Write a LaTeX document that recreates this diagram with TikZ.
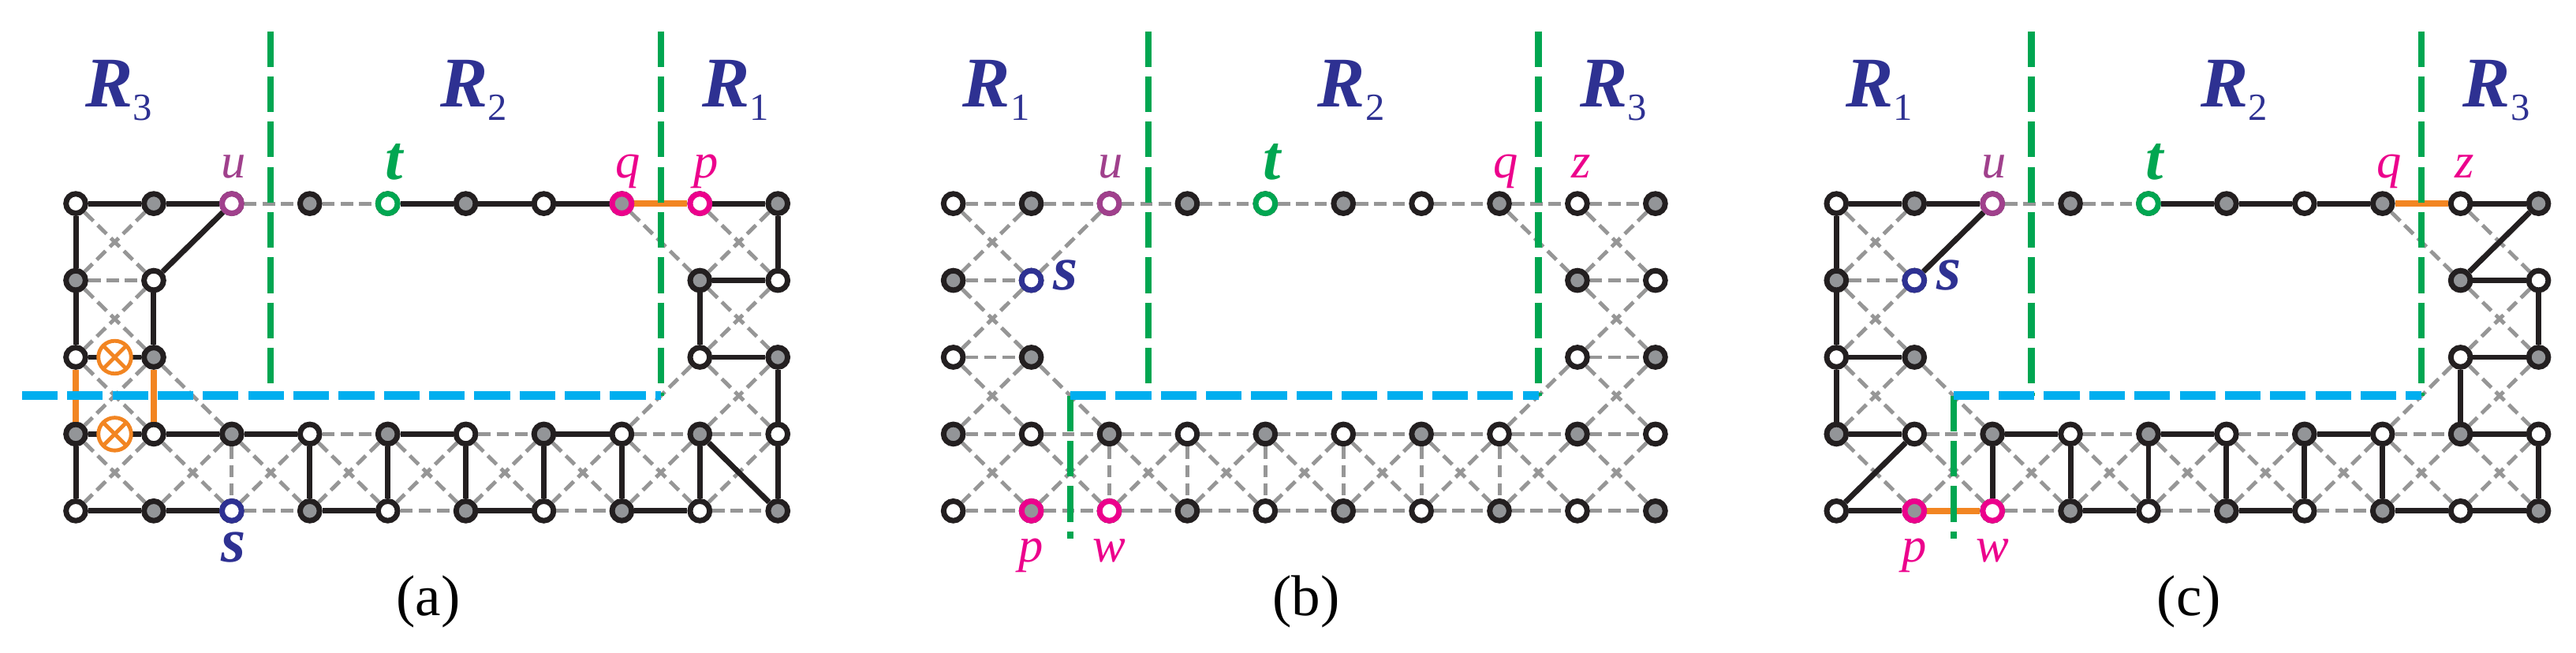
\documentclass[tikz,border=0pt]{standalone}
\usepackage{fontspec}
\setmainfont{Liberation Serif}
\usetikzlibrary{calc,positioning}

\definecolor{regblue}{RGB}{46,49,146}
\definecolor{grn}{RGB}{0,166,81}
\definecolor{mag}{RGB}{236,0,140}
\definecolor{purp}{RGB}{160,64,140}
\definecolor{orng}{RGB}{242,133,34}
\definecolor{cyn}{RGB}{0,174,239}
\definecolor{edgegray}{RGB}{150,150,150}
\definecolor{fillgray}{RGB}{147,149,152}
\definecolor{nodeblack}{RGB}{35,31,32}

\tikzset{
  vtx/.style={circle,draw=nodeblack,line width=2pt,minimum size=0.25cm,inner sep=0pt,fill=white},
  vgr/.style={vtx,fill=fillgray},
  gedge/.style={draw=edgegray,line width=1.4pt,dash pattern=on 4.5pt off 2.2pt},
  bedge/.style={draw=nodeblack,line width=2pt},
  oedge/.style={draw=orng,line width=2.4pt},
  gsep/.style={draw=grn,line width=2.4pt,dash pattern=on 13pt off 3.5pt},
  csep/.style={draw=cyn,line width=3pt,dash pattern=on 13pt off 3.5pt},
  lbl/.style={inner sep=0pt,anchor=base,font=\fontsize{18}{18}\selectfont\itshape},
  blbl/.style={lbl,font=\fontsize{23}{23}\selectfont\bfseries\itshape},
  captxt/.style={inner sep=0pt,font=\fontsize{21}{21}\selectfont},
  otimes/.style={circle,draw=orng,line width=1.4pt,fill=white,minimum size=0.42cm,inner sep=0pt,
    path picture={\draw[orng,line width=1.4pt]
      (path picture bounding box.north west)--(path picture bounding box.south east)
      (path picture bounding box.north east)--(path picture bounding box.south west);}},
}
\def\dy{0.985}
\newcommand{\regname}[1]{{\fontsize{26}{26}\selectfont\bfseries\itshape R}\raisebox{-5pt}{\fontsize{14}{14}\selectfont #1}}

% one grid: prefix, black edges, orange edges
\newcommand{\gridpanel}[3]{%
  % vertices
  \foreach \yi in {0,...,4}{
    \foreach \xi in {0,...,9}{
      \pgfmathtruncatemacro\gap{((\yi==1)||(\yi==2))&&(\xi>1)&&(\xi<8)}
      \pgfmathtruncatemacro\odd{mod(\xi+\yi,2)}
      \ifnum\gap=0
        \ifnum\odd=1 \def\vs{vgr}\else\def\vs{vtx}\fi
        \node[\vs] (#1-\xi-\yi) at (\xi,-\yi*\dy) {};
      \fi
    }
  }
  % gray edges
  \foreach \xi [evaluate=\xi as \xn using int(\xi+1)] in {0,...,8}
    \foreach \yi in {0,3,4}
      \draw[gedge] (#1-\xi-\yi) -- (#1-\xn-\yi);
  \foreach \yi in {1,2}{
    \draw[gedge] (#1-0-\yi) -- (#1-1-\yi);
    \draw[gedge] (#1-8-\yi) -- (#1-9-\yi);
  }
  \foreach \xi in {0,1,8,9}
    \foreach \yi [evaluate=\yi as \yn using int(\yi+1)] in {0,...,3}
      \draw[gedge] (#1-\xi-\yi) -- (#1-\xi-\yn);
  \foreach \xi in {2,...,7}
    \draw[gedge] (#1-\xi-3) -- (#1-\xi-4);
  \foreach \xi/\yi in {0/0,0/1,0/2,0/3,8/0,8/1,8/2,8/3,1/3,2/3,3/3,4/3,5/3,6/3,7/3}{
    \pgfmathtruncatemacro\xn{\xi+1}
    \pgfmathtruncatemacro\yn{\yi+1}
    \draw[gedge] (#1-\xi-\yi) -- (#1-\xn-\yn);
    \draw[gedge] (#1-\xn-\yi) -- (#1-\xi-\yn);
  }
  \foreach \xa/\ya/\xb/\yb in {2/0/1/1,7/0/8/1,1/2/2/3,8/2/7/3}
    \draw[gedge] (#1-\xa-\ya) -- (#1-\xb-\yb);
  % matching edges
  \foreach \xa/\ya/\xb/\yb in {#2}
    \draw[bedge] (#1-\xa-\ya) -- (#1-\xb-\yb);
  \foreach \xa/\ya/\xb/\yb in {#3}
    \draw[oedge] (#1-\xa-\ya) -- (#1-\xb-\yb);
}

\begin{document}
\begin{tikzpicture}
\useasboundingbox (0,0) rectangle (33.02,8.362);

%% (a)
\begin{scope}[shift={(0.971,5.752)}]
\gridpanel{a}{0/0/1/0,1/0/2/0,4/0/5/0,5/0/6/0,6/0/7/0,8/0/9/0,2/0/1/1,
  0/0/0/1,0/1/0/2,0/3/0/4,1/1/1/2,0/2/1/2,0/3/1/3,
  1/3/2/3,2/3/3/3,4/3/5/3,6/3/7/3,0/4/1/4,1/4/2/4,3/4/4/4,5/4/6/4,7/4/8/4,
  3/3/3/4,4/3/4/4,5/3/5/4,6/3/6/4,7/3/7/4,8/3/8/4,9/3/9/4,8/3/9/4,
  9/0/9/1,8/1/9/1,8/1/8/2,8/2/9/2,9/2/9/3}{7/0/8/0,0/2/0/3,1/2/1/3}
\node[vtx,draw=purp] (a-u) at (a-2-0) {};
\node[vtx,draw=grn] (a-t) at (a-4-0) {};
\node[vgr,draw=mag] (a-q) at (a-7-0) {};
\node[vtx,draw=mag] (a-p) at (a-8-0) {};
\node[vtx,draw=regblue] (a-s) at (a-2-4) {};
\node[otimes] (a-x1) at ($(a-0-2)!0.5!(a-1-2)$) {};
\node[otimes] (a-x2) at ($(a-0-3)!0.5!(a-1-3)$) {};
\draw[gsep] (2.5,2.21) -- (2.5,-2.5*\dy);
\draw[gsep] (7.5,2.21) -- (7.5,-2.5*\dy);
\draw[csep] (-0.69,-2.5*\dy) -- (7.5,-2.5*\dy);
\node[lbl,text=purp] (a-ul) at (2.02,0.33) {u};
\node[blbl,text=grn] (a-tl) at (4.08,0.31) {t};
\node[lbl,text=mag] (a-ql) at (7.08,0.33) {q};
\node[lbl,text=mag] (a-pl) at (8.08,0.33) {p};
\node[blbl,text=regblue] (a-sl) at (2.02,-4.59) {s};
\node[text=regblue,inner sep=0pt,anchor=base] (a-r3) at (0.55,1.24) {\regname{3}};
\node[text=regblue,inner sep=0pt,anchor=base] (a-r2) at (5.1,1.24) {\regname{2}};
\node[text=regblue,inner sep=0pt,anchor=base] (a-r1) at (8.46,1.24) {\regname{1}};
\node[captxt] (a-cap) at (4.52,-5.1) {(a)};
\end{scope}

%% (b)
\begin{scope}[shift={(12.22,5.752)}]
\gridpanel{b}{}{}
\node[vtx,draw=purp] (b-u) at (b-2-0) {};
\node[vtx,draw=grn] (b-t) at (b-4-0) {};
\node[vtx,draw=regblue] (b-s) at (b-1-1) {};
\node[vgr,draw=mag] (b-p) at (b-1-4) {};
\node[vtx,draw=mag] (b-w) at (b-2-4) {};
\draw[gsep] (2.5,2.21) -- (2.5,-2.5*\dy);
\draw[gsep] (7.5,2.21) -- (7.5,-2.5*\dy);
\draw[gsep] (1.5,-2.5*\dy) -- (1.5,-4.3);
\draw[csep] (1.5,-2.5*\dy) -- (7.5,-2.5*\dy);
\node[lbl,text=purp] (b-ul) at (2.02,0.33) {u};
\node[blbl,text=grn] (b-tl) at (4.08,0.31) {t};
\node[lbl,text=mag] (b-ql) at (7.08,0.33) {q};
\node[lbl,text=mag] (b-zl) at (8.05,0.33) {z};
\node[blbl,text=regblue] (b-sl) at (1.44,-1.11) {s};
\node[lbl,text=mag] (b-pl) at (1.0,-4.59) {p};
\node[lbl,text=mag] (b-wl) at (2.0,-4.59) {w};
\node[text=regblue,inner sep=0pt,anchor=base] (b-r1) at (0.55,1.24) {\regname{1}};
\node[text=regblue,inner sep=0pt,anchor=base] (b-r2) at (5.1,1.24) {\regname{2}};
\node[text=regblue,inner sep=0pt,anchor=base] (b-r3) at (8.46,1.24) {\regname{3}};
\node[captxt] (b-cap) at (4.52,-5.1) {(b)};
\end{scope}

%% (c)
\begin{scope}[shift={(23.54,5.752)}]
\gridpanel{c}{0/0/1/0,1/0/2/0,4/0/5/0,5/0/6/0,6/0/7/0,8/0/9/0,2/0/1/1,8/1/9/0,
  0/0/0/1,0/1/0/2,0/2/0/3,0/2/1/2,0/3/1/3,0/4/1/4,0/4/1/3,
  2/3/3/3,4/3/5/3,6/3/7/3,8/3/9/3,3/4/4/4,5/4/6/4,7/4/8/4,8/4/9/4,
  2/3/2/4,3/3/3/4,4/3/4/4,5/3/5/4,6/3/6/4,7/3/7/4,9/3/9/4,
  8/1/9/1,9/1/9/2,8/2/9/2,8/2/8/3}{7/0/8/0,1/4/2/4}
\node[vtx,draw=purp] (c-u) at (c-2-0) {};
\node[vtx,draw=grn] (c-t) at (c-4-0) {};
\node[vtx,draw=regblue] (c-s) at (c-1-1) {};
\node[vgr,draw=mag] (c-p) at (c-1-4) {};
\node[vtx,draw=mag] (c-w) at (c-2-4) {};
\draw[gsep] (2.5,2.21) -- (2.5,-2.5*\dy);
\draw[gsep] (7.5,2.21) -- (7.5,-2.5*\dy);
\draw[gsep] (1.5,-2.5*\dy) -- (1.5,-4.3);
\draw[csep] (1.5,-2.5*\dy) -- (7.5,-2.5*\dy);
\node[lbl,text=purp] (c-ul) at (2.02,0.33) {u};
\node[blbl,text=grn] (c-tl) at (4.08,0.31) {t};
\node[lbl,text=mag] (c-ql) at (7.08,0.33) {q};
\node[lbl,text=mag] (c-zl) at (8.05,0.33) {z};
\node[blbl,text=regblue] (c-sl) at (1.44,-1.11) {s};
\node[lbl,text=mag] (c-pl) at (1.0,-4.59) {p};
\node[lbl,text=mag] (c-wl) at (2.0,-4.59) {w};
\node[text=regblue,inner sep=0pt,anchor=base] (c-r1) at (0.55,1.24) {\regname{1}};
\node[text=regblue,inner sep=0pt,anchor=base] (c-r2) at (5.1,1.24) {\regname{2}};
\node[text=regblue,inner sep=0pt,anchor=base] (c-r3) at (8.46,1.24) {\regname{3}};
\node[captxt] (c-cap) at (4.52,-5.1) {(c)};
\end{scope}
\end{tikzpicture}
\end{document}
